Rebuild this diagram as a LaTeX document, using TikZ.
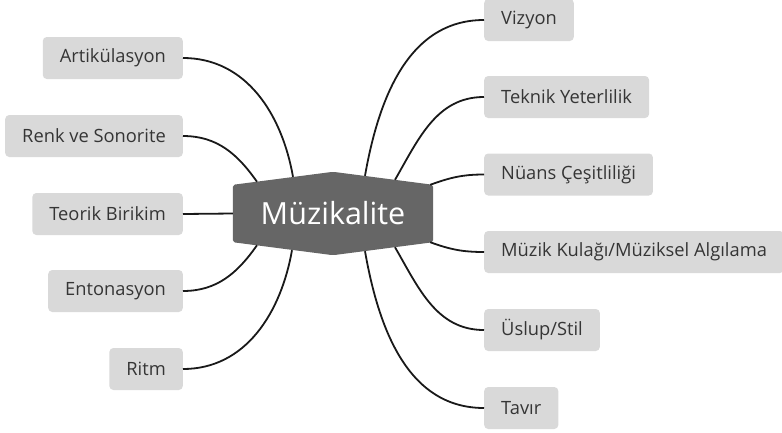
\documentclass[tikz,border=0pt]{standalone}
\usepackage{fontspec}
\setmainfont{Open Sans}
\usetikzlibrary{positioning,backgrounds}
\definecolor{boxgray}{HTML}{D9D9D9}
\definecolor{hubgray}{HTML}{666666}
\definecolor{txtgray}{HTML}{353535}
\tikzset{
  topic/.style={fill=boxgray, rounded corners=4pt, text=txtgray, minimum height=42pt,
    inner xsep=17pt, font=\fontsize{18.3}{21}\selectfont},
  link/.style={line width=1.8pt, black!90}
}
\begin{document}
\begin{tikzpicture}[x=1pt,y=-1pt]
\useasboundingbox (0,0) rectangle (782,432);
% hub
\node[minimum width=200pt, minimum height=57pt, inner sep=0pt, text=white,
  font=\fontsize{30.5}{34}\selectfont] (mz) at (333,213.5) {Müzikalite};
\begin{scope}[on background layer]
 \fill[hubgray, rounded corners=2pt] (mz.north west) -- ([yshift=13pt]mz.north) -- (mz.north east)
   -- (mz.south east) -- ([yshift=-13pt]mz.south) -- (mz.south west) -- cycle;
\end{scope}
% left topics
\node[topic, anchor=east] (art) at (183,58) {Artikülasyon};
\node[topic, anchor=east] (renk) at (183,136) {Renk ve Sonorite};
\node[topic, anchor=east] (teo) at (183,214) {Teorik Birikim};
\node[topic, anchor=east] (ent) at (183,291) {Entonasyon};
\node[topic, anchor=east] (rit) at (183,369) {Ritm};
% right topics
\node[topic, anchor=west] (viz) at (484,20) {Vizyon};
\node[topic, anchor=west] (tek) at (484,97) {Teknik Yeterlilik};
\node[topic, anchor=west] (nua) at (484,174.5) {Nüans Çeşitliliği};
\node[topic, anchor=west] (kul) at (484,252) {Müzik Kulağı/Müziksel Algılama};
\node[topic, anchor=west] (usl) at (484,330) {Üslup/Stil};
\node[topic, anchor=west] (tav) at (484,408) {Tavır};
% links
\draw[link] (art.east) to[out=0,in=100] ([xshift=-40pt,yshift=8pt]mz.north);
\draw[link] (renk.east) to[out=0,in=125] ([xshift=-76pt,yshift=3pt]mz.north);
\draw[link] (teo.east) -- (mz.west);
\draw[link] (ent.east) to[out=0,in=235] ([xshift=-76pt,yshift=-3pt]mz.south);
\draw[link] (rit.east) to[out=0,in=260] ([xshift=-41pt,yshift=-8pt]mz.south);
\draw[link] (viz.west) to[out=180,in=80] ([xshift=32pt,yshift=9pt]mz.north);
\draw[link] (tek.west) to[out=180,in=60] ([xshift=62pt,yshift=5pt]mz.north);
\draw[link] (nua.west) to[out=180,in=20] ([xshift=-3pt]mz.north east);
\draw[link] (kul.west) to[out=180,in=-20] ([xshift=-3pt]mz.south east);
\draw[link] (usl.west) to[out=180,in=-60] ([xshift=62pt,yshift=-5pt]mz.south);
\draw[link] (tav.west) to[out=180,in=-80] ([xshift=32pt,yshift=-9pt]mz.south);
\end{tikzpicture}
\end{document}
